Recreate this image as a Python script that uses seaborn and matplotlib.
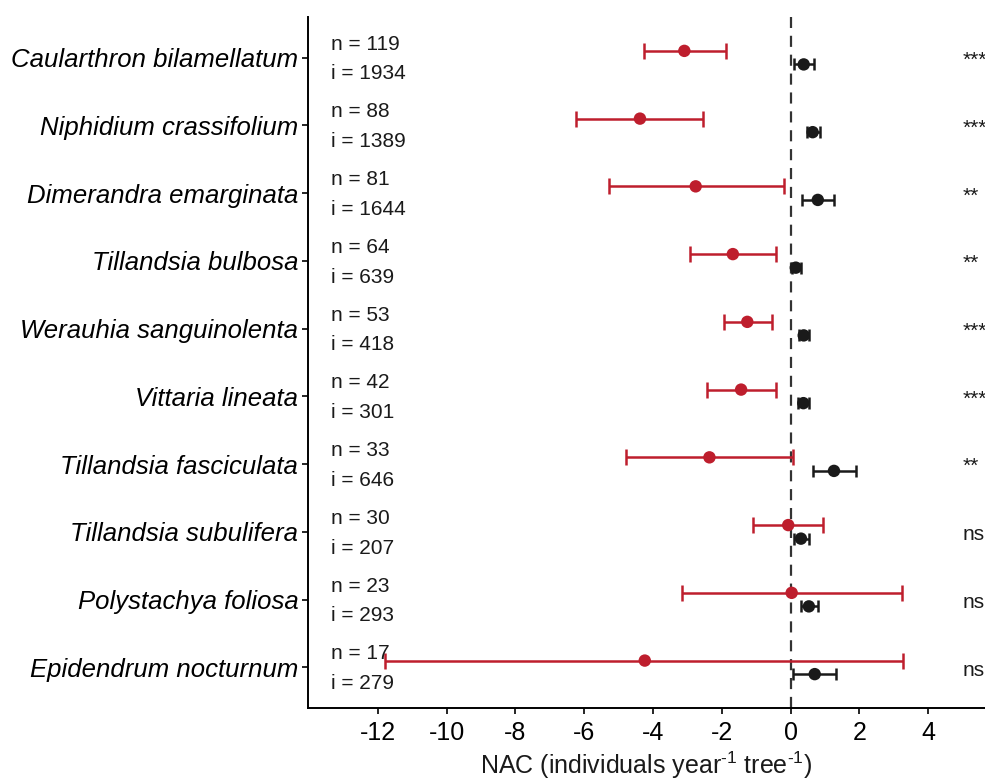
import matplotlib
matplotlib.use("Agg")
import matplotlib.pyplot as plt
import seaborn as sns
import pandas as pd

# Species (top to bottom)
species = [
    "Caularthron bilamellatum", "Niphidium crassifolium", "Dimerandra emarginata",
    "Tillandsia bulbosa", "Werauhia sanguinolenta", "Vittaria lineata",
    "Tillandsia fasciculata", "Tillandsia subulifera", "Polystachya foliosa",
    "Epidendrum nocturnum",
]
n_trees = [119, 88, 81, 64, 53, 42, 33, 30, 23, 17]
n_ind = [1934, 1389, 1644, 639, 418, 301, 646, 207, 293, 279]
signif = ["***", "***", "**", "**", "***", "***", "**", "ns", "ns", "ns"]

# red series (estimate, lower, upper)
red_mean = [-3.09, -4.38, -2.76, -1.68, -1.26, -1.44, -2.36, -0.07, 0.03, -4.24]
red_lo = [-4.25, -6.24, -5.28, -2.92, -1.94, -2.44, -4.80, -1.08, -3.15, -11.79]
red_hi = [-1.88, -2.55, -0.20, -0.44, -0.55, -0.43, 0.08, 0.95, 3.25, 3.28]

# black series
blk_mean = [0.38, 0.64, 0.79, 0.15, 0.38, 0.37, 1.26, 0.30, 0.53, 0.70]
blk_lo = [0.10, 0.47, 0.33, 0.05, 0.23, 0.22, 0.64, 0.10, 0.30, 0.06]
blk_hi = [0.67, 0.85, 1.26, 0.29, 0.53, 0.53, 1.89, 0.53, 0.79, 1.31]

RED = "#BE1E2D"
BLACK = "#1A1A1A"

sns.set_theme(style="ticks")
plt.rcParams["font.family"] = ["Liberation Sans", "DejaVu Sans"]
plt.rcParams["mathtext.fontset"] = "custom"
plt.rcParams["mathtext.rm"] = "Liberation Sans"

rows = list(range(len(species)))
red_df = pd.DataFrame({"x": red_mean, "y": [r - 0.1 for r in rows]})
blk_df = pd.DataFrame({"x": blk_mean, "y": [r + 0.1 for r in rows]})

fig = plt.figure(figsize=(9.85, 7.8), dpi=100)
ax = fig.add_axes([308 / 985, 72 / 780, 677 / 985, 691 / 780])

ax.axvline(0, color="#333333", lw=1.6, ls=(0, (5, 3.5)), zorder=1)

ax.errorbar(red_mean, red_df["y"],
            xerr=[[m - l for m, l in zip(red_mean, red_lo)],
                  [h - m for m, h in zip(red_mean, red_hi)]],
            fmt="none", ecolor=RED, elinewidth=1.8, capsize=6, capthick=1.8, zorder=2)
ax.errorbar(blk_mean, blk_df["y"],
            xerr=[[m - l for m, l in zip(blk_mean, blk_lo)],
                  [h - m for m, h in zip(blk_mean, blk_hi)]],
            fmt="none", ecolor=BLACK, elinewidth=1.8, capsize=4.5, capthick=1.8, zorder=2)
sns.scatterplot(data=red_df, x="x", y="y", color=RED, s=80, edgecolor="none", ax=ax, zorder=3)
sns.scatterplot(data=blk_df, x="x", y="y", color=BLACK, s=80, edgecolor="none", ax=ax, zorder=3)

for r, n, i, s in zip(rows, n_trees, n_ind, signif):
    ax.text(-13.37, r - 0.2, f"n = {n}", fontsize=15, va="center", ha="left", color="#1a1a1a")
    ax.text(-13.37, r + 0.24, f"i = {i}", fontsize=15, va="center", ha="left", color="#1a1a1a")
    ax.text(5.0, r + 0.04, s, fontsize=15, va="center", ha="left", color="#1a1a1a", clip_on=False)

ax.set_xlim(-14.03, 5.65)
ax.set_ylim(9.6, -0.6)
ax.set_yticks(rows)
ax.set_yticklabels(species, fontsize=18.5, style="italic", color="black")
ax.set_xticks([-12, -10, -8, -6, -4, -2, 0, 2, 4])
ax.set_xticklabels(["-12", "-10", "-8", "-6", "-4", "-2", "0", "2", "4"], fontsize=18, color="black")
ax.set_xlabel(r"NAC (individuals year$^{\text{-1}}$ tree$^{\text{-1}}$)", fontsize=18, labelpad=4,
              color="#1a1a1a")
ax.set_ylabel("")
ax.tick_params(axis="x", length=4, width=1.2, color="black", pad=5)
ax.tick_params(axis="y", length=4, width=1.2, color="black", pad=3)
sns.despine(ax=ax)
for sp in ["left", "bottom"]:
    ax.spines[sp].set_linewidth(1.4)
    ax.spines[sp].set_color("black")

fig.savefig("out.png", dpi=100)
